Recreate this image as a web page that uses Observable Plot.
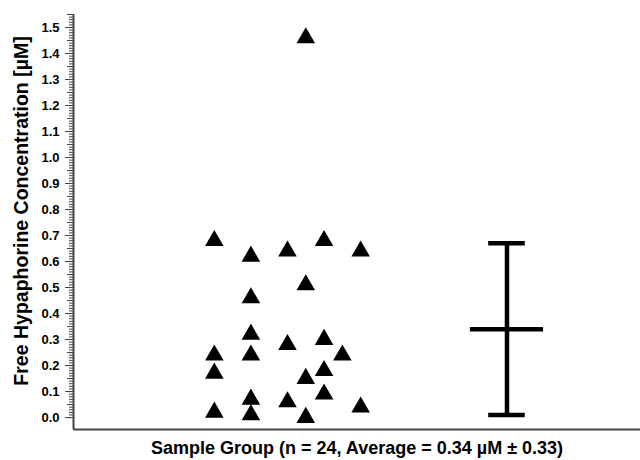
<!DOCTYPE html>
<html><head><meta charset="utf-8">
<script src="https://cdn.jsdelivr.net/npm/d3@7"></script>
<script src="https://cdn.jsdelivr.net/npm/@observablehq/plot@0.6"></script>
<style>body{margin:0;background:#fff}</style>
</head><body><div id="chart"></div>
<script>
// jitter column index of each sample (scatter position within the group)
const columns = [0,0,0,0, 2,2,2,2,2,2, 4,4,4, 5,5,5,5, 6,6,6,6, 7, 8,8];
// free hypaphorine concentration (µM) for each sample
const values = [0.68,0.24,0.17,0.02, 0.62,0.46,0.32,0.24,0.07,0.01, 0.64,0.28,0.06, 1.46,0.51,0.15,0.00, 0.68,0.30,0.18,0.09, 0.24, 0.64,0.04];
const meanValue = 0.34;
const sdValue = 0.33;
const summaryColumn = 16;
const majorTicks = [0,0.1,0.2,0.3,0.4,0.5,0.6,0.7,0.8,0.9,1.0,1.1,1.2,1.3,1.4,1.5];
const yLabel = "Free Hypaphorine Concentration [µM]";
const xLabel = "Sample Group (n = 24, Average = 0.34 µM ± 0.33)";

const minorTicks = d3.range(0, 156).map(i => i / 100);
const midTicks = d3.range(0, 32).map(i => i * 5 / 100);
const samples = values.map((v, i) => ({col: columns[i], value: v}));
const xDomain = [-7.7, 23.3];
const yDomain = [-0.046, 1.55];
const axisColor = "#444";

const chart = Plot.plot({
  width: 640,
  height: 460,
  marginLeft: 73,
  marginRight: 0,
  marginTop: 14,
  marginBottom: 31,
  style: {fontFamily: "'Liberation Sans', Arial, sans-serif", fontWeight: "bold", background: "#fff"},
  x: {domain: xDomain, axis: null},
  y: {domain: yDomain, axis: null},
  marks: [
    Plot.axisY({ticks: minorTicks, tickSize: 4, text: null, stroke: axisColor, label: null}),
    Plot.axisY({ticks: midTicks, tickSize: 6, text: null, stroke: axisColor, label: null}),
    Plot.axisY({ticks: majorTicks, tickSize: 8, tickPadding: 6, tickFormat: d3.format(".1f"), fontSize: 13, fontWeight: "bold", fill: "#000", stroke: axisColor, label: null}),
    Plot.ruleX([xDomain[0]], {stroke: axisColor, strokeWidth: 2}),
    Plot.ruleY([yDomain[0]], {stroke: axisColor, strokeWidth: 2}),
    Plot.dot(samples, {x: "col", y: "value", symbol: "triangle", r: 6.9, fill: "black", stroke: "none"}),
    Plot.ruleX([summaryColumn], {x: d => d, y1: meanValue - sdValue, y2: meanValue + sdValue, stroke: "black", strokeWidth: 4.5}),
    Plot.ruleY([meanValue], {y: d => d, x1: summaryColumn - 2, x2: summaryColumn + 2, stroke: "black", strokeWidth: 4.5}),
    Plot.ruleY([meanValue - sdValue, meanValue + sdValue], {y: d => d, x1: summaryColumn - 1, x2: summaryColumn + 1, stroke: "black", strokeWidth: 4.5}),
    Plot.text([yLabel], {text: d => d, frameAnchor: "left", textAnchor: "middle", lineAnchor: "middle", rotate: -90, dx: -52, dy: -11, fontSize: 19.5, fontWeight: "bold", fill: "#000"}),
    Plot.text([xLabel], {text: d => d, frameAnchor: "bottom", textAnchor: "middle", dy: 19, lineAnchor: "middle", fontSize: 18, fontWeight: "bold", fill: "#000"})
  ]
});
document.getElementById("chart").append(chart);
</script>
</body></html>
